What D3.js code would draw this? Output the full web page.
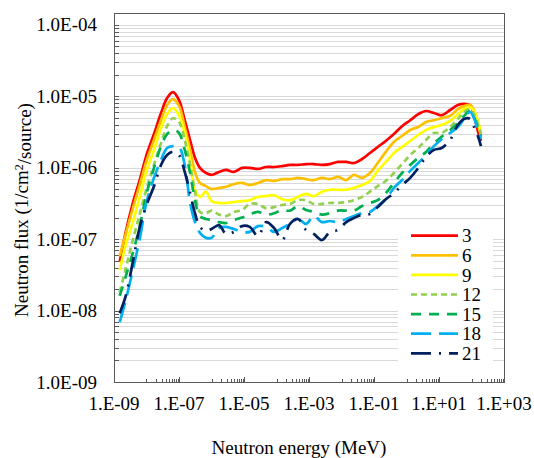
<!DOCTYPE html>
<html>
<head>
<meta charset="utf-8">
<script src="https://cdn.jsdelivr.net/npm/d3@7"></script>
<style>
    body { margin: 0; background: #fff; }
</style>
</head>
<body>
<div id="chart"></div>
<script>
// neutron energy grid (MeV), shared by all series
const energy = [1.5e-9, 2.3e-9, 3.8e-9, 6.3e-9, 1.0e-8, 1.7e-8, 2.8e-8, 4.3e-8, 6.5e-8, 1.0e-7,
    1.5e-7, 2.2e-7, 3.1e-7, 4.4e-7, 6.8e-7, 1.0e-6, 1.7e-6, 2.8e-6, 4.9e-6, 8.7e-6,
    1.5e-5, 2.7e-5, 4.8e-5, 8.4e-5, 1.5e-4, 2.6e-4, 4.6e-4, 8.1e-4, 1.4e-3, 2.5e-3,
    4.4e-3, 7.8e-3, 1.4e-2, 2.4e-2, 4.3e-2, 7.5e-2, 0.13, 0.23, 0.41, 0.73,
    1.3, 2.3, 4.0, 7.0, 12, 22, 38, 59, 90, 120, 160, 196];

// neutron flux (1/cm2/source) for each depth
const flux3 = [4.8e-8, 1.26e-7, 3.2e-7, 6.9e-7, 1.5e-6, 2.95e-6, 5.8e-6, 9.4e-6, 1.14e-5, 8.8e-6,
    4.6e-6, 2.4e-6, 1.37e-6, 9.9e-7, 8.4e-7, 7.9e-7, 8.7e-7, 9.3e-7, 8.7e-7, 9.9e-7,
    9.9e-7, 9.6e-7, 1.02e-6, 1.02e-6, 1.05e-6, 1.09e-6, 1.09e-6, 1.12e-6, 1.12e-6, 1.09e-6,
    1.12e-6, 1.2e-6, 1.2e-6, 1.16e-6, 1.32e-6, 1.6e-6, 1.94e-6, 2.36e-6, 2.95e-6, 3.8e-6,
    4.6e-6, 5.6e-6, 6.2e-6, 5.8e-6, 5.4e-6, 6.4e-6, 7.5e-6, 7.8e-6, 7.5e-6, 5.4e-6, 3.15e-6, 2.36e-6];
const flux6 = [5.8e-8, 1.18e-7, 2.7e-7, 5.9e-7, 1.24e-6, 2.44e-6, 4.6e-6, 7.5e-6, 9.1e-6, 7.3e-6,
    3.7e-6, 1.77e-6, 8.7e-7, 6.1e-7, 5.5e-7, 5.0e-7, 5.2e-7, 5.4e-7, 5.9e-7, 6.1e-7,
    5.7e-7, 6.1e-7, 6.7e-7, 6.5e-7, 6.9e-7, 6.9e-7, 7.2e-7, 6.9e-7, 6.7e-7, 7.2e-7,
    6.9e-7, 7.4e-7, 6.7e-7, 7.9e-7, 7.2e-7, 8.4e-7, 1.16e-6, 1.66e-6, 2.29e-6, 2.77e-6,
    3.36e-6, 3.7e-6, 4.35e-6, 4.6e-6, 4.9e-6, 5.3e-6, 6.6e-6, 7.3e-6, 7.5e-6, 6.4e-6, 3.95e-6, 2.77e-6];
const flux9 = [3.7e-8, 8.3e-8, 1.73e-7, 4.0e-7, 9.0e-7, 1.77e-6, 3.6e-6, 5.6e-6, 6.8e-6, 5.4e-6,
    3.05e-6, 1.28e-6, 4.9e-7, 3.9e-7, 4.6e-7, 3.4e-7, 3.2e-7, 3.2e-7, 3.3e-7, 3.4e-7,
    3.5e-7, 3.9e-7, 4.0e-7, 4.1e-7, 3.6e-7, 3.5e-7, 3.9e-7, 4.3e-7, 4.0e-7, 4.6e-7,
    4.9e-7, 4.9e-7, 4.9e-7, 5.2e-7, 5.7e-7, 6.5e-7, 9.0e-7, 1.2e-6, 1.6e-6, 1.95e-6,
    2.36e-6, 2.86e-6, 3.36e-6, 3.7e-6, 3.95e-6, 4.5e-6, 5.6e-6, 6.6e-6, 7.0e-6, 6.2e-6, 4.35e-6, 3.05e-6];
const flux12 = [1.8e-8, 3.9e-8, 9.7e-8, 2.3e-7, 5.0e-7, 1.09e-6, 2.2e-6, 3.8e-6, 4.9e-6, 4.35e-6,
    2.44e-6, 1.09e-6, 4.6e-7, 2.4e-7, 2.3e-7, 2.5e-7, 2.2e-7, 2.1e-7, 2.4e-7, 2.55e-7,
    3.1e-7, 3.1e-7, 2.7e-7, 2.8e-7, 3.0e-7, 3.1e-7, 3.5e-7, 3.5e-7, 3.1e-7, 3.1e-7,
    3.2e-7, 3.2e-7, 3.3e-7, 3.5e-7, 3.9e-7, 4.6e-7, 5.5e-7, 6.5e-7, 8.4e-7, 1.12e-6,
    1.5e-6, 1.88e-6, 2.44e-6, 3.05e-6, 3.05e-6, 3.7e-6, 4.8e-6, 6.0e-6, 6.6e-6, 5.6e-6, 3.95e-6, 2.95e-6];
const flux15 = [1.6e-8, 3.0e-8, 6.4e-8, 1.57e-7, 4.3e-7, 9.9e-7, 2.0e-6, 2.95e-6, 3.36e-6, 3.05e-6,
    1.77e-6, 8.4e-7, 3.5e-7, 2.1e-7, 1.91e-7, 1.85e-7, 1.73e-7, 1.68e-7, 1.85e-7, 2.0e-7,
    2.2e-7, 2.4e-7, 2.2e-7, 2.3e-7, 2.55e-7, 2.5e-7, 2.9e-7, 2.55e-7, 2.4e-7, 2.2e-7,
    2.3e-7, 2.5e-7, 2.5e-7, 2.5e-7, 2.9e-7, 3.2e-7, 3.5e-7, 4.4e-7, 6.1e-7, 8.4e-7,
    1.09e-6, 1.37e-6, 1.66e-6, 2.2e-6, 2.7e-6, 3.36e-6, 4.2e-6, 5.3e-6, 6.2e-6, 5.1e-6, 3.5e-6, 2.7e-6];
const flux18 = [6.9e-9, 1.4e-8, 3.7e-8, 1.04e-7, 3.3e-7, 7.2e-7, 1.28e-6, 1.88e-6, 2.0e-6, 1.95e-6,
    1.09e-6, 3.2e-7, 1.73e-7, 1.22e-7, 1.04e-7, 1.04e-7, 1.43e-7, 1.48e-7, 1.38e-7, 1.26e-7,
    1.26e-7, 1.52e-7, 1.48e-7, 1.26e-7, 1.43e-7, 1.63e-7, 1.91e-7, 1.63e-7, 2.1e-7, 1.73e-7,
    1.79e-7, 1.73e-7, 1.91e-7, 2.1e-7, 2.3e-7, 2.4e-7, 2.9e-7, 3.6e-7, 5.2e-7, 6.7e-7,
    9.0e-7, 1.16e-6, 1.5e-6, 2.0e-6, 2.5e-6, 3.05e-6, 3.7e-6, 4.8e-6, 6.0e-6, 4.9e-6, 3.25e-6, 2.5e-6];
const flux21 = [9.2e-9, 1.6e-8, 4.8e-8, 1.52e-7, 3.0e-7, 5.5e-7, 1.09e-6, 1.5e-6, 1.66e-6, 1.5e-6,
    8.7e-7, 4.4e-7, 2.3e-7, 1.48e-7, 1.3e-7, 1.38e-7, 1.57e-7, 1.18e-7, 1.26e-7, 1.52e-7,
    1.48e-7, 1.1e-7, 1.73e-7, 1.43e-7, 9.7e-8, 1.63e-7, 1.91e-7, 1.34e-7, 1.18e-7, 9.7e-8,
    1.26e-7, 1.34e-7, 1.73e-7, 1.97e-7, 2.2e-7, 2.25e-7, 2.8e-7, 3.6e-7, 4.4e-7, 5.7e-7,
    7.2e-7, 9.9e-7, 1.41e-6, 1.77e-6, 1.88e-6, 2.44e-6, 3.95e-6, 4.8e-6, 4.8e-6, 3.7e-6, 2.7e-6, 2.0e-6];

const seriesNames = ["3", "6", "9", "12", "15", "18", "21"];
const seriesFlux = [flux3, flux6, flux9, flux12, flux15, flux18, flux21];

// tick labels
const xTickValues = [1e-9, 1e-7, 1e-5, 1e-3, 1e-1, 1e1, 1e3];
const xTickLabels = ["1.E-09", "1.E-07", "1.E-05", "1.E-03", "1.E-01", "1.E+01", "1.E+03"];
const yTickValues = [1e-9, 1e-8, 1e-7, 1e-6, 1e-5, 1e-4];
const yTickLabels = ["1.0E-09", "1.0E-08", "1.0E-07", "1.0E-06", "1.0E-05", "1.0E-04"];

// line styles per series
const colors = ["#FF0000", "#FFC000", "#FFFF00", "#92D050", "#00B050", "#00B0F0", "#002060"];
const dashes = [null, null, null, "6,4", "10,8", "20,8", "20,8,2,8"];

const width = 534;
const height = 458;
const plotL = 114, plotR = 504, plotT = 13, plotB = 382;
const serif = "Liberation Serif, LiberationSerif, Times New Roman, Times, Tinos, Nimbus Roman, Noto Serif, DejaVu Serif, serif";

const svg = d3.select("#chart")
    .append("svg")
    .attr("width", width)
    .attr("height", height)
    .style("font-family", serif);

const x = d3.scaleLog().domain([1e-9, 1e3]).range([plotL, plotR]);
const y = d3.scaleLog().domain([1e-9, 1e-4]).range([plotB, 24.7]);

// gridlines: every 1..9 step of each decade on the y axis
const yMinor = [];
for (let d = -9; d < -4; d++) {
    for (let m = 1; m < 10; m++) {
        yMinor.push(m * Math.pow(10, d));
    }
}
yMinor.push(1e-4);

svg.append("g")
    .selectAll("line")
    .data(yMinor)
    .join("line")
    .attr("x1", plotL)
    .attr("x2", plotR)
    .attr("y1", d => Math.round(y(d)) + 0.5)
    .attr("y2", d => Math.round(y(d)) + 0.5)
    .attr("stroke", "#d9d9d9")
    .attr("stroke-width", 1);

// y ticks point inward
svg.append("g")
    .selectAll("line")
    .data(yMinor)
    .join("line")
    .attr("x1", plotL)
    .attr("x2", plotL + 5)
    .attr("y1", d => Math.round(y(d)) + 0.5)
    .attr("y2", d => Math.round(y(d)) + 0.5)
    .attr("stroke", "#595959")
    .attr("stroke-width", 1);

// x ticks: majors every 2 decades, minors at 10x..90x of each major
const xMinor = [];
for (let k = -9; k < 3; k += 2) {
    for (let m = 1; m < 10; m++) {
        xMinor.push(m * Math.pow(10, k + 1));
    }
}
svg.append("g")
    .selectAll("line")
    .data(xMinor)
    .join("line")
    .attr("x1", d => Math.round(x(d)) + 0.5)
    .attr("x2", d => Math.round(x(d)) + 0.5)
    .attr("y1", plotB)
    .attr("y2", plotB - 3)
    .attr("stroke", "#595959");
svg.append("g")
    .selectAll("line")
    .data(xTickValues)
    .join("line")
    .attr("x1", d => Math.round(x(d)) + 0.5)
    .attr("x2", d => Math.round(x(d)) + 0.5)
    .attr("y1", plotB)
    .attr("y2", plotB - 5)
    .attr("stroke", "#595959");

// plot frame
svg.append("rect")
    .attr("x", plotL + 0.5)
    .attr("y", plotT + 0.5)
    .attr("width", plotR - plotL)
    .attr("height", plotB - plotT)
    .attr("fill", "none")
    .attr("stroke", "#595959")
    .attr("stroke-width", 1);

// tick labels
svg.append("g")
    .selectAll("text")
    .data(xTickValues)
    .join("text")
    .attr("x", d => x(d))
    .attr("y", 410)
    .attr("text-anchor", "middle")
    .style("font-family", serif)
    .style("font-size", "19px")
    .text((d, i) => xTickLabels[i]);

svg.append("g")
    .selectAll("text")
    .data(yTickValues)
    .join("text")
    .attr("x", 97)
    .attr("y", d => y(d))
    .attr("dy", "0.35em")
    .attr("text-anchor", "end")
    .style("font-family", serif)
    .style("font-size", "19px")
    .text((d, i) => yTickLabels[i]);

// axis titles
svg.append("text")
    .attr("x", 299)
    .attr("y", 454)
    .attr("text-anchor", "middle")
    .style("font-family", serif)
    .style("font-size", "19px")
    .text("Neutron energy (MeV)");

const yTitle = svg.append("text")
    .attr("transform", "translate(28,210) rotate(-90)")
    .attr("text-anchor", "middle")
    .style("font-family", serif)
    .style("font-size", "19px");
yTitle.append("tspan").text("Neutron flux (1/cm");
yTitle.append("tspan").attr("dy", "-0.4em").style("font-size", "12px").text("2");
yTitle.append("tspan").attr("dy", "0.4em").text("/source)");

// curves
const line = d3.line()
    .x(d => x(d[0]))
    .y(d => y(d[1]))
    .curve(d3.curveCatmullRom.alpha(0.5));

seriesFlux.forEach((f, i) => {
    const pts = energy.map((e, j) => [e, f[j]]);
    svg.append("path")
        .datum(pts)
        .attr("d", line)
        .attr("fill", "none")
        .attr("stroke", colors[i])
        .attr("stroke-width", 2.7)
        .attr("stroke-linejoin", "round")
        .attr("stroke-dasharray", dashes[i]);
});

// legend
const legend = svg.append("g");
legend.append("rect")
    .attr("x", 398)
    .attr("y", 226)
    .attr("width", 95)
    .attr("height", 138)
    .attr("fill", "#fff");

seriesNames.forEach((name, i) => {
    const ly = 235.7 + i * 19.6;
    legend.append("line")
        .attr("x1", 411)
        .attr("x2", 458)
        .attr("y1", ly)
        .attr("y2", ly)
        .attr("stroke", colors[i])
        .attr("stroke-width", 2.7)
        .attr("stroke-dasharray", dashes[i]);
    legend.append("text")
        .attr("x", 462)
        .attr("y", ly)
        .attr("dy", "0.35em")
        .style("font-family", serif)
        .style("font-size", "19px")
        .text(name);
});
</script>
</body>
</html>
